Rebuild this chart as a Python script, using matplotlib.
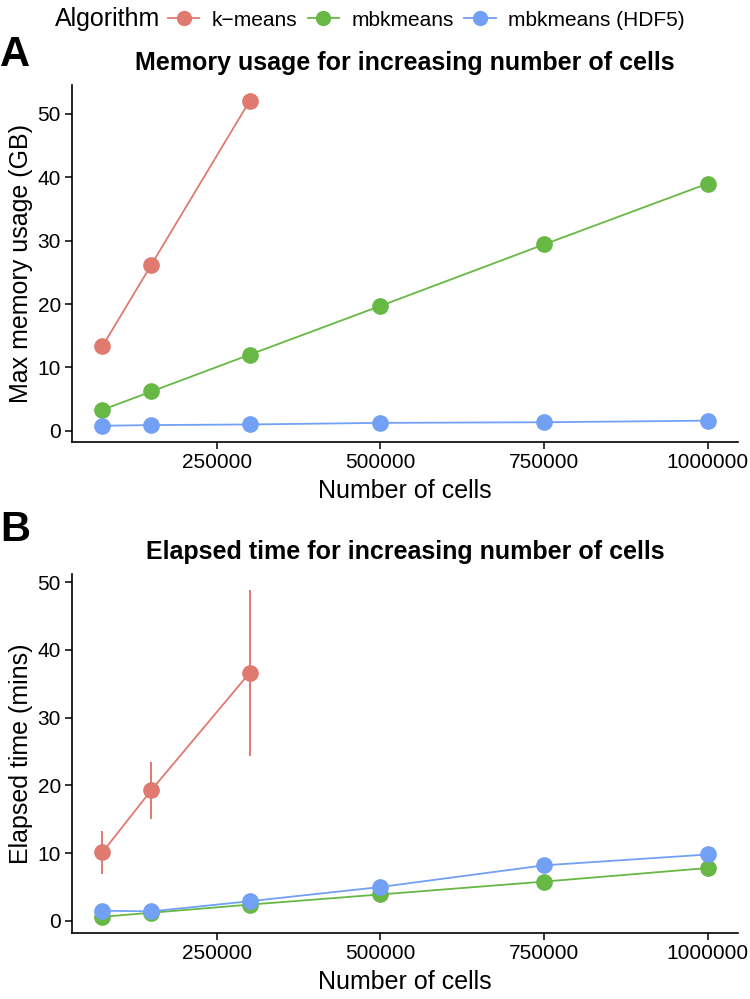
import matplotlib
matplotlib.use('Agg')
import matplotlib.pyplot as plt
from matplotlib.lines import Line2D

plt.rcParams['font.family'] = ['Liberation Sans', 'DejaVu Sans']

cells = [75000, 150000, 300000, 500000, 750000, 1000000]
algorithms = ['k\u2212means', 'mbkmeans', 'mbkmeans (HDF5)']
colors = ['#E07A70', '#67B845', '#72A0F5']

# Memory usage (GB); k-means only ran up to 300000 cells
mem_kmeans = [13.3, 26.2, 52.0]
mem_mbk = [3.3, 6.2, 12.0, 19.7, 29.4, 39.0]
mem_hdf5 = [0.8, 0.9, 1.0, 1.25, 1.35, 1.6]

# Elapsed time (mins) with spread for k-means
time_kmeans = [10.1, 19.3, 36.6]
time_kmeans_lo = [6.9, 15.0, 24.4]
time_kmeans_hi = [13.3, 23.5, 48.8]
time_mbk = [0.6, 1.2, 2.4, 3.9, 5.8, 7.8]
time_hdf5 = [1.5, 1.4, 2.9, 5.0, 8.2, 9.8]

fig = plt.figure(figsize=(7.5, 9.99), dpi=100)
axA = fig.add_axes([0.096, 0.5576, 0.888, 0.3574])
axB = fig.add_axes([0.096, 0.066, 0.888, 0.3594])

def style(ax):
    for s in ['top', 'right']:
        ax.spines[s].set_visible(False)
    for s in ['left', 'bottom']:
        ax.spines[s].set_linewidth(1.2)
    ax.tick_params(labelsize=15, width=1.1, length=5, pad=3, color='black', labelcolor='black')
    ax.set_xlim(28750, 1046250)
    ax.set_xticks([250000, 500000, 750000, 1000000])
    ax.set_xticklabels(['250000', '500000', '750000', '1000000'])
    ax.set_xlabel('Number of cells', fontsize=18, labelpad=5)

ms = 11
lw = 1.3

axA.plot(cells[:3], mem_kmeans, '-o', color=colors[0], ms=ms, lw=lw)
axA.plot(cells, mem_mbk, '-o', color=colors[1], ms=ms, lw=lw)
axA.plot(cells, mem_hdf5, '-o', color=colors[2], ms=ms, lw=lw)
axA.set_ylim(-1.76, 54.56)
axA.set_yticks([0, 10, 20, 30, 40, 50])
axA.set_ylabel('Max memory usage (GB)', fontsize=18, labelpad=3)
axA.set_title('Memory usage for increasing number of cells', fontsize=18, fontweight='bold', pad=11)
style(axA)

axB.vlines(cells[:3], time_kmeans_lo, time_kmeans_hi, color=colors[0], lw=1.4)
axB.plot(cells[:3], time_kmeans, '-o', color=colors[0], ms=ms, lw=lw)
axB.plot(cells, time_mbk, '-o', color=colors[1], ms=ms, lw=lw)
axB.plot(cells, time_hdf5, '-o', color=colors[2], ms=ms, lw=lw)
axB.set_ylim(-1.8, 51.2)
axB.set_yticks([0, 10, 20, 30, 40, 50])
axB.set_ylabel('Elapsed time (mins)', fontsize=18, labelpad=3)
axB.set_title('Elapsed time for increasing number of cells', fontsize=18, fontweight='bold', pad=11)
style(axB)

fig.text(0.0, 1 - 55 / 999, 'A', fontsize=30, fontweight='bold', va='center', ha='left')
fig.text(0.0, 1 - 530 / 999, 'B', fontsize=30, fontweight='bold', va='center', ha='left')

fig.text(55 / 750, 1 - 19 / 999, 'Algorithm', fontsize=18, va='center', ha='left')
handles = [Line2D([0], [0], color=c, marker='o', ms=10, lw=lw) for c in colors]
fig.legend(handles, algorithms, loc='center left', bbox_to_anchor=(168 / 750, 1 - 20 / 999),
           ncol=3, frameon=False, fontsize=15, handlelength=1.5, handletextpad=0.6,
           columnspacing=0.5, borderaxespad=0, borderpad=0)

fig.savefig('out.png', dpi=100)
